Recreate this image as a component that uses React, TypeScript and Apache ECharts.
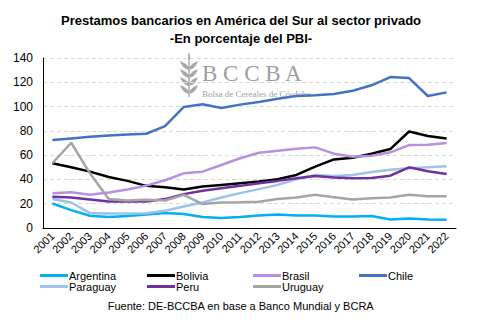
import React, { useEffect, useRef } from "react";
import * as echarts from "echarts";

const years = ["2001","2002","2003","2004","2005","2006","2007","2008","2009","2010","2011","2012","2013","2014","2015","2016","2017","2018","2019","2020","2021","2022"];
const argentina = [20.2,14.7,10.1,9.0,9.8,11.1,12.3,11.5,9.0,8.2,9.0,10.3,11.1,10.3,10.3,9.5,9.5,9.8,7.0,7.9,7.0,6.8];
const bolivia = [53.3,50.0,46.4,42.0,38.8,34.7,33.6,31.7,34.1,35.5,36.9,38.2,40.2,43.7,50.5,56.5,57.9,61.2,65.0,79.5,75.7,73.8];
const brasil = [28.7,29.5,27.3,29.2,31.7,34.9,39.3,45.0,46.4,51.9,57.4,62.0,63.6,65.2,66.4,61.2,58.7,59.5,62.3,68.3,68.6,70.0];
const chile = [72.4,73.8,75.1,76.2,77.0,77.6,83.9,99.7,101.9,98.9,101.6,103.8,106.5,108.7,109.3,110.3,113.0,117.5,124.3,123.5,108.7,111.7];
const paraguay = [23.8,21.0,12.3,12.0,12.0,12.2,14.2,17.7,21.0,25.1,28.7,32.0,35.5,40.2,43.7,42.9,43.7,46.1,48.0,49.2,50.0,50.8];
const peru = [25.7,25.1,23.5,21.8,21.8,21.8,23.8,27.9,30.6,32.8,34.7,36.9,38.8,41.0,42.9,41.5,41.0,41.2,43.1,50.0,46.7,44.5];
const uruguay = [53.3,70.2,45.0,23.8,22.6,23.2,22.6,27.3,19.7,21.0,21.2,21.6,23.8,25.1,27.3,25.4,23.5,24.6,25.1,27.3,26.2,26.2];

const seriesDefs = [
  { name: "Argentina", data: argentina, color: "#00B0F0" },
  { name: "Bolivia", data: bolivia, color: "#000000" },
  { name: "Brasil", data: brasil, color: "#B98EE3" },
  { name: "Chile", data: chile, color: "#4472C4" },
  { name: "Paraguay", data: paraguay, color: "#9DC3E6" },
  { name: "Peru", data: peru, color: "#7030A0" },
  { name: "Uruguay", data: uruguay, color: "#A5A5A5" },
];

const legendPos = [
  { left: 40, top: 270 },
  { left: 147, top: 270 },
  { left: 253, top: 270 },
  { left: 359, top: 270 },
  { left: 40, top: 281 },
  { left: 147, top: 281 },
  { left: 253, top: 281 },
];

function wheatPath(): string {
  let d = "M9 0 Q11 5 9 11 Q7 5 9 0 Z M8.3 10 L9.7 10 L9.7 45 L8.3 45 Z ";
  [9, 17, 25, 33].forEach((y) => {
    d += `M8.5 ${y + 9} Q2 ${y + 7} 0 ${y} Q6 ${y + 2} 8.5 ${y + 6} Z `;
    d += `M9.5 ${y + 9} Q16 ${y + 7} 18 ${y} Q12 ${y + 2} 9.5 ${y + 6} Z `;
  });
  return d;
}

let registered = false;

export default function App() {
  const ref = useRef<HTMLDivElement>(null);
  useEffect(() => {
    if (!ref.current) return;
    document.body.style.margin = "0";
    if (!registered) {
      echarts.graphic.registerShape("logo", echarts.graphic.extendPath(wheatPath(), {}) as any);
      registered = true;
    }
    const chart = echarts.init(ref.current, null, { renderer: "svg" });
    const font = "Arial, 'Liberation Sans', sans-serif";
    chart.setOption({
      animation: false,
      backgroundColor: "#ffffff",
      textStyle: { fontFamily: font },
      title: {
        text: "Prestamos bancarios en América del Sur al sector privado\n-En porcentaje del PBI-",
        left: "center",
        top: 7,
        textStyle: { fontSize: 13, fontWeight: "bold", color: "#000", lineHeight: 17.5, fontFamily: font },
      },
      grid: { left: 43, right: 26, top: 58, bottom: 93 },
      xAxis: {
        type: "category",
        data: years,
        boundaryGap: true,
        axisLine: { lineStyle: { color: "#000", width: 1 } },
        axisTick: { show: false },
        axisLabel: { rotate: 45, interval: 0, fontSize: 11, color: "#000", margin: 6, fontFamily: font },
      },
      yAxis: {
        type: "value",
        min: 0,
        max: 140,
        interval: 20,
        axisLine: { show: true, lineStyle: { color: "#000", width: 1 } },
        axisTick: { show: false },
        axisLabel: { fontSize: 12, color: "#000", margin: 10, fontFamily: font },
        splitLine: { lineStyle: { color: "#D9D9D9", type: [4, 3] } },
      },
      legend: seriesDefs.map((s, i) => ({
        data: [s.name],
        left: legendPos[i].left,
        top: legendPos[i].top,
        padding: 0,
        itemWidth: 28,
        itemHeight: 3,
        icon: "rect",
        textStyle: { fontSize: 11, color: "#000", padding: [0, 0, 0, -4], fontFamily: font },
      })),
      graphic: [
        {
          type: "logo",
          x: 180,
          y: 52,
          scaleX: 1,
          scaleY: 1,
          z: -10,
          silent: true,
          style: { fill: "#A8A8A8" },
        },
        {
          type: "text",
          x: 202,
          y: 73,
          z: -10,
          silent: true,
          style: {
            text: "B C C B A",
            fill: "#9E9E9E",
            font: "23px 'Liberation Serif', 'DejaVu Serif', serif",
            verticalAlign: "middle",
          },
        },
        {
          type: "text",
          x: 202,
          y: 94,
          z: -10,
          silent: true,
          style: {
            text: "Bolsa de Cereales de Córdoba",
            fill: "#9E9E9E",
            font: "9px 'Liberation Serif', 'DejaVu Serif', serif",
            verticalAlign: "middle",
          },
        },
        {
          type: "text",
          left: "center",
          top: 300,
          style: {
            text: "Fuente: DE-BCCBA en base a Banco Mundial y BCRA",
            fill: "#000",
            font: "11px Arial, 'Liberation Sans', sans-serif",
          },
        },
      ],
      series: seriesDefs.map((s) => ({
        name: s.name,
        type: "line",
        data: s.data,
        symbol: "none",
        smooth: false,
        lineStyle: { color: s.color, width: 2.5 },
        itemStyle: { color: s.color },
      })),
    });
    return () => chart.dispose();
  }, []);
  return <div ref={ref} style={{ width: 482, height: 321 }} />;
}
